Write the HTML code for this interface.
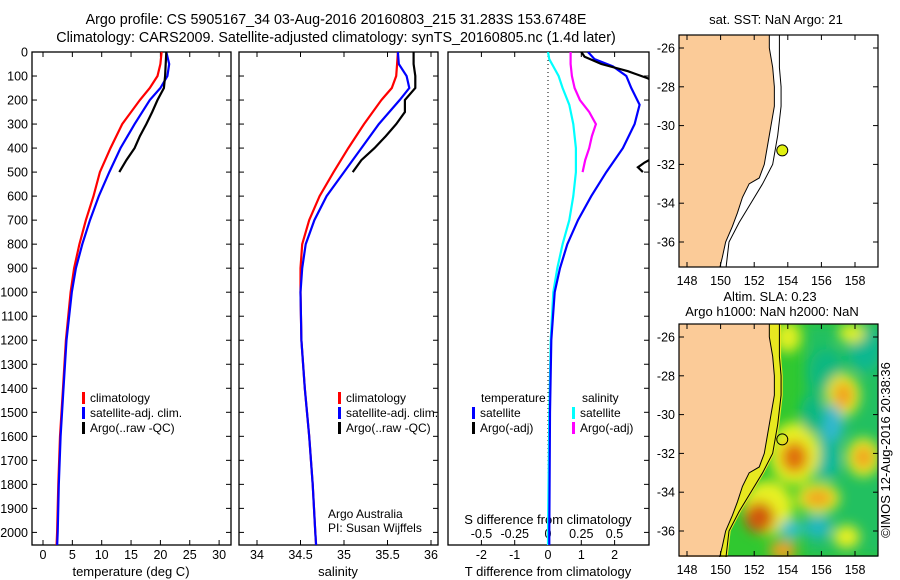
<!DOCTYPE html>
<html><head><meta charset="utf-8"><style>
body{margin:0;background:#fff;}
svg{display:block;font-family:"Liberation Sans",sans-serif;}
</style></head><body>
<svg id="fig" width="900" height="580" viewBox="0 0 900 580" xmlns="http://www.w3.org/2000/svg">
<defs>
<clipPath id="c1"><rect x="32" y="52" width="199" height="493"/></clipPath>
<clipPath id="c2"><rect x="239" y="52" width="199" height="493"/></clipPath>
<clipPath id="c3"><rect x="448" y="52" width="201" height="493"/></clipPath>
<clipPath id="cm1"><rect x="679" y="35" width="199" height="232"/></clipPath>
<clipPath id="cm2"><rect x="679" y="324" width="199" height="233"/></clipPath>
<filter id="blur" x="-20%" y="-20%" width="140%" height="140%"><feGaussianBlur stdDeviation="6"/></filter>
</defs>
<g font-size="13" fill="#000" text-anchor="middle">
<text x="336" y="24" font-size="14.3">Argo profile: CS 5905167_34 03-Aug-2016 20160803_215 31.283S 153.6748E</text>
<text x="336" y="42" font-size="14.3">Climatology: CARS2009. Satellite-adjusted climatology: synTS_20160805.nc (1.4d later)</text>
<text x="776" y="24">sat. SST: NaN Argo: 21</text>
<text x="770" y="301">Altim. SLA: 0.23</text>
<text x="772" y="316">Argo h1000: NaN h2000: NaN</text>
<text x="131" y="576">temperature (deg C)</text>
<text x="338" y="576">salinity</text>
<text x="548" y="576">T difference from climatology</text>
<text x="548" y="524">S difference from climatology</text>
<text x="890" y="450" transform="rotate(-90 890 450)">©IMOS 12-Aug-2016 20:38:36</text>
</g>
<g font-size="12" text-anchor="start">
<text x="328" y="518">Argo Australia</text>
<text x="328" y="532">PI: Susan Wijffels</text>
</g>
<g id="panels"></g>
<g id="maps"></g>
</svg>
<script>
// ---- data ----
const depthTicks=[0,100,200,300,400,500,600,700,800,900,1000,1100,1200,1300,1400,1500,1600,1700,1800,1900,2000];
const tempTicks=[0,5,10,15,20,25,30];
const salTicks=[34,34.5,35,35.5,36];
const salTickLabels=["34","34.5","35","35.5","36"];
const tdTicks=[-2,-1,0,1,2];
const sdTicks=[-0.5,-0.25,0,0.25,0.5];
const sdTickLabels=["-0.5","-0.25","0","0.25","0.5"];
const climDepth=[0,50,100,150,200,300,400,500,600,700,800,900,1000,1200,1400,1600,1800,2000,2060];
const climTemp=[20.2,20.0,19.5,18.2,16.5,13.5,11.5,9.7,8.6,7.3,6.2,5.3,4.7,3.9,3.4,2.9,2.6,2.4,2.3];
const satTemp=[21.0,21.5,21.2,20.0,18.2,15.6,13.2,11.3,9.5,8.0,6.7,5.6,4.9,4.0,3.5,3.0,2.7,2.5,2.4];
const climSal=[35.62,35.61,35.6,35.55,35.43,35.23,35.05,34.88,34.72,34.6,34.52,34.5,34.5,34.51,34.55,34.6,34.64,34.67,34.68];
const satSal=[35.62,35.63,35.72,35.75,35.64,35.4,35.2,35.0,34.8,34.66,34.56,34.52,34.5,34.51,34.55,34.6,34.64,34.67,34.68];
const argoDepth=[0,50,100,150,200,250,300,350,400,450,500];
const argoTemp=[21.0,20.9,20.8,20.6,19.5,18.6,17.6,16.5,15.6,14.2,13.0];
const argoSal=[35.8,35.8,35.82,35.82,35.7,35.7,35.6,35.48,35.35,35.2,35.1];
const tdDepth=[0,30,60,100,150,220,300,400,500,600,700,800,900,1000,1200,1500,2000,2060];
const satTdiff=[1.2,1.4,1.95,2.35,2.5,2.75,2.6,2.25,1.75,1.3,0.9,0.58,0.36,0.2,0.1,0.06,0.04,0.04];
const satSdiff=[0,0.01,0.04,0.08,0.11,0.16,0.19,0.21,0.21,0.19,0.16,0.11,0.07,0.04,0.02,0.01,0,0];
const argoTdDepth=[0,20,50,80,110,140,430,460,480,500];
const argoTdiff=[1.0,1.1,1.6,2.4,3.0,3.4,3.3,2.9,2.7,2.85];
const argoSdDepth=[0,50,100,150,200,250,300,350,400,450,500];
const argoSdiff=[0.17,0.17,0.18,0.2,0.24,0.31,0.36,0.33,0.31,0.28,0.26];
const latTicks=[-26,-28,-30,-32,-34,-36];
const lonTicks=[148,150,152,154,156,158];
const coastLon=[152.9,152.9,153.0,153.1,153.2,153.2,153.0,152.8,152.6,152.3,151.7,151.3,151.0,150.7,150.3,150.1,149.9];
const coastLat=[-25.2,-26,-26.5,-27,-28,-29,-30,-31,-32,-32.7,-33,-33.7,-34.5,-35.2,-36,-36.8,-37.5];
const isoLon=[153.5,153.5,153.6,153.6,153.4,153.1,152.5,151.8,151.1,150.5,150.3];
const isoLat=[-25.2,-27,-28,-29,-30.5,-32,-33,-34,-35,-36,-37.5];
const floatLon=153.67, floatLat=-31.28;
// SLA anomaly blobs: lon, lat, rx(deg), ry(deg), color
const blobLon=[158.6,156.3,154.0,157.8,157.3,157.3,156.6,156.3,154.4,154.4,158.5,158.5,155.8,155.8,152.8,152.3,154.2,155.8,153.7,155.5,157.5];
const blobLat=[-26.6,-27.8,-26.0,-25.8,-29.0,-29.0,-30.5,-32.3,-32.0,-32.2,-32.2,-32.2,-34.3,-34.3,-34.8,-35.3,-35.9,-35.8,-37.0,-30.0,-36.3];
const blobRx=[1.0,1.0,0.8,0.8,1.0,0.6,0.7,0.8,1.5,0.8,1.0,0.6,1.3,0.9,1.5,0.9,0.7,0.8,0.8,0.7,0.8];
const blobRy=[1.2,1.2,0.8,0.5,1.1,0.7,1.0,1.0,1.6,0.8,1.0,0.6,0.8,0.45,1.4,0.8,0.5,0.6,0.5,1.0,0.6];
const blobCol=["#10b890","#10b880","#e0f020","#e0f020","#e8f020","#f0a020","#30b8d0","#10b8a0","#e8f020","#e07010","#e8f020","#f0a020","#e8f020","#f0a020","#e8f020","#d05810","#30c0d0","#20b8c0","#f0a020","#10b880","#e8f020"];

const NS="http://www.w3.org/2000/svg";
function mk(parent,tag,attrs){const e=document.createElementNS(NS,tag);for(const k in attrs)e.setAttribute(k,attrs[k]);parent.appendChild(e);return e;}
const Y=d=>52+d*0.2402;
const panels=document.getElementById('panels');
const maps=document.getElementById('maps');
function poly(g,xs,ds,fx,fy,color,w,clip,name){
  const p=xs.map((v,i)=>fx(v).toFixed(1)+","+fy(ds[i]).toFixed(1)).join(" ");
  const e=mk(g,'polyline',{points:p,fill:'none',stroke:color,'stroke-width':w,'clip-path':'url(#'+clip+')'});
  
  
}
function frame(x0,x1,name){
  const r=mk(panels,'rect',{x:x0,y:52,width:x1-x0,height:493,fill:'none',stroke:'#000','stroke-width':1.3});
  
  
}
// Panel 1 temperature
const X1=t=>43+t*5.87;
frame(32,231,'temperature-panel');
depthTicks.forEach(d=>{
  mk(panels,'line',{x1:32,x2:37,y1:Y(d),y2:Y(d),stroke:'#000'});
  mk(panels,'line',{x1:226,x2:231,y1:Y(d),y2:Y(d),stroke:'#000'});
  mk(panels,'line',{x1:239,x2:244,y1:Y(d),y2:Y(d),stroke:'#000'});
  mk(panels,'line',{x1:433,x2:438,y1:Y(d),y2:Y(d),stroke:'#000'});
  mk(panels,'line',{x1:644,x2:649,y1:Y(d),y2:Y(d),stroke:'#000'});
  const t=mk(panels,'text',{x:28,y:Y(d)+4.5,'font-size':12.5,'text-anchor':'end'});t.textContent=d;
  
  
});
tempTicks.forEach(v=>{
  mk(panels,'line',{x1:X1(v),x2:X1(v),y1:52,y2:57,stroke:'#000'});
  mk(panels,'line',{x1:X1(v),x2:X1(v),y1:540,y2:545,stroke:'#000'});
  const t=mk(panels,'text',{x:X1(v),y:559,'font-size':12.5,'text-anchor':'middle'});t.textContent=v;
  
  
});
poly(panels,climTemp,climDepth,X1,Y,'#f00',2.2,'c1','climatology-temp-line');
poly(panels,satTemp,climDepth,X1,Y,'#00f',2.2,'c1','satellite-temp-line');
poly(panels,argoTemp,argoDepth,X1,Y,'#000',2.2,'c1','argo-temp-line');
// Panel 2 salinity
const X2=s=>257+(s-34)*87;
frame(239,438,'salinity-panel');
salTicks.forEach((v,i)=>{
  mk(panels,'line',{x1:X2(v),x2:X2(v),y1:52,y2:57,stroke:'#000'});
  mk(panels,'line',{x1:X2(v),x2:X2(v),y1:540,y2:545,stroke:'#000'});
  const t=mk(panels,'text',{x:X2(v),y:559,'font-size':12.5,'text-anchor':'middle'});t.textContent=salTickLabels[i];
  
  
});
poly(panels,climSal,climDepth,X2,Y,'#f00',2.2,'c2','climatology-sal-line');
poly(panels,satSal,climDepth,X2,Y,'#00f',2.2,'c2','satellite-sal-line');
poly(panels,argoSal,argoDepth,X2,Y,'#000',2.2,'c2','argo-sal-line');
// legends
function legend(x,y,items,names){
  items.forEach((it,i)=>{
    mk(panels,'rect',{x:x,y:y+i*15-10,width:3,height:12,fill:it[1]});
    const t=mk(panels,'text',{x:x+8,y:y+i*15,'font-size':12});t.textContent=it[0];
    
    
  });
}
legend(82,402,[['climatology','#f00'],['satellite-adj. clim.','#00f'],['Argo(..raw -QC)','#000']],['legend-climatology','legend-satellite','legend-argo']);
legend(338,402,[['climatology','#f00'],['satellite-adj. clim.','#00f'],['Argo(..raw -QC)','#000']],['legend-climatology-2','legend-satellite-2','legend-argo-2']);
// Panel 3 differences
const X3=t=>548+t*33.3;
const X3s=s=>548+s*133;
frame(448,649,'difference-panel');
mk(panels,'line',{x1:548,x2:548,y1:52,y2:545,stroke:'#000','stroke-dasharray':'1,3'});
tdTicks.forEach(v=>{
  mk(panels,'line',{x1:X3(v),x2:X3(v),y1:52,y2:57,stroke:'#000'});
  mk(panels,'line',{x1:X3(v),x2:X3(v),y1:540,y2:545,stroke:'#000'});
  const t=mk(panels,'text',{x:X3(v),y:559,'font-size':12.5,'text-anchor':'middle'});t.textContent=v;
  
  
});
sdTicks.forEach((v,i)=>{
  const t=mk(panels,'text',{x:X3s(v),y:538,'font-size':12.5,'text-anchor':'middle'});t.textContent=sdTickLabels[i];
  
  
});
poly(panels,satSdiff,tdDepth,X3s,Y,'#0ff',2.2,'c3','satellite-sdiff-line');
poly(panels,argoSdiff,argoSdDepth,X3s,Y,'#f0f',2.2,'c3','argo-sdiff-line');
poly(panels,satTdiff,tdDepth,X3,Y,'#00f',2.2,'c3','satellite-tdiff-line');
poly(panels,argoTdiff,argoTdDepth,X3,Y,'#000',2.2,'c3','argo-tdiff-line');
{const t=mk(panels,'text',{x:481,y:402,'font-size':12});t.textContent='temperature';
 
 
 const u=mk(panels,'text',{x:582,y:402,'font-size':12});u.textContent='salinity';
 
 }
legend(472,417,[['satellite','#00f'],['Argo(-adj)','#000']],['legend-t-satellite','legend-t-argo']);
legend(572,417,[['satellite','#0ff'],['Argo(-adj)','#f0f']],['legend-s-satellite','legend-s-argo']);
// Maps
function drawMap(y0,clip,sla,name){
  const LX=l=>687+(l-148)*16.8;
  const LY=l=>y0+13+(-26-l)*19.4;
  const g=mk(maps,'g',{'clip-path':'url(#'+clip+')'});
  
  
  mk(g,'rect',{x:679,y:y0,width:199,height:232,fill:sla?'#30c830':'#fff'});
  if(sla){
    mk(g,'rect',{x:LX(155),y:y0,width:120,height:232,fill:'#20c060',filter:'url(#blur)'});
    const bg=mk(g,'g',{filter:'url(#blur)'});
    blobLon.forEach((l,i)=>{
      const e=mk(bg,'ellipse',{cx:LX(l),cy:LY(blobLat[i]),rx:blobRx[i]*16.8,ry:blobRy[i]*19.4,fill:blobCol[i]});
      
      
    });
    const strip=coastLon.map((l,i)=>LX(l)+','+LY(coastLat[i])).join(' ')+' '+isoLon.slice().reverse().map((l,i)=>LX(l+0.1)+','+LY(isoLat.slice().reverse()[i])).join(' ');
    mk(g,'polygon',{points:strip,fill:'#e8e820'});
  }
  const land=coastLon.map((l,i)=>LX(l)+','+LY(coastLat[i])).join(' ')+' 670,'+(y0+240)+' 670,'+(y0-5);
  const lp=mk(g,'polygon',{points:land,fill:'#fbcb98',stroke:'#000','stroke-width':1});
  
  
  mk(g,'polyline',{points:isoLon.map((l,i)=>LX(l)+','+LY(isoLat[i])).join(' '),fill:'none',stroke:'#000','stroke-width':1});
  const fp=mk(g,'circle',{cx:LX(floatLon),cy:LY(floatLat),r:5.5,fill:sla?'none':'#e0f010',stroke:'#000','stroke-width':1});
  
  
  const fr=mk(maps,'rect',{x:679,y:y0,width:199,height:232,fill:'none',stroke:'#000','stroke-width':1.2});
  
  
  latTicks.forEach(l=>{
    mk(maps,'line',{x1:679,x2:684,y1:LY(l),y2:LY(l),stroke:'#000'});
    mk(maps,'line',{x1:873,x2:878,y1:LY(l),y2:LY(l),stroke:'#000'});
    const t=mk(maps,'text',{x:675,y:LY(l)+4.5,'font-size':12.5,'text-anchor':'end'});t.textContent=l;
    
    
  });
  lonTicks.forEach(l=>{
    mk(maps,'line',{x1:LX(l),x2:LX(l),y1:y0,y2:y0+5,stroke:'#000'});
    mk(maps,'line',{x1:LX(l),x2:LX(l),y1:y0+227,y2:y0+232,stroke:'#000'});
    const t=mk(maps,'text',{x:LX(l),y:y0+250,'font-size':12.5,'text-anchor':'middle'});t.textContent=l;
    
    
  });
}
drawMap(35,'cm1',false,'sst-map');
drawMap(324,'cm2',true,'sla-map');
</script>
</body></html>
